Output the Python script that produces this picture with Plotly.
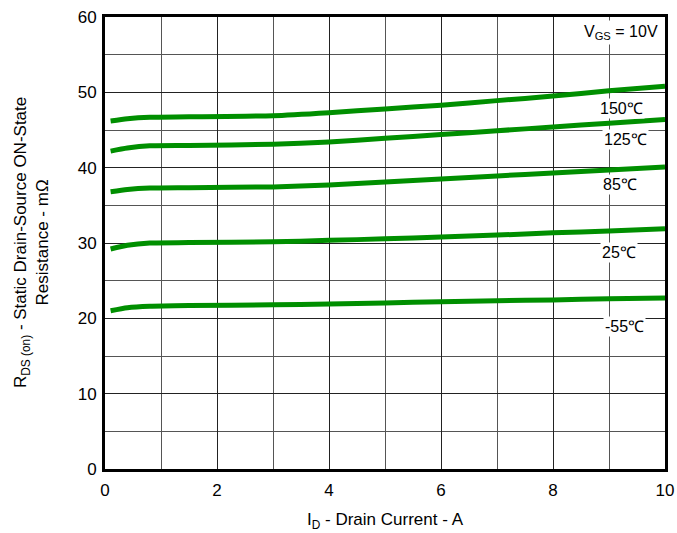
import plotly.graph_objects as go

x_vals = [0.1, 0.4, 0.8, 1.5, 3, 4, 5, 6, 7, 8, 9, 10]
r_150 = [46.2, 46.5, 46.7, 46.75, 46.9, 47.3, 47.8, 48.3, 48.9, 49.5, 50.2, 50.8]
r_125 = [42.2, 42.6, 42.9, 42.95, 43.1, 43.4, 43.9, 44.4, 44.9, 45.4, 45.9, 46.4]
r_85 = [36.8, 37.1, 37.3, 37.35, 37.45, 37.7, 38.1, 38.5, 38.9, 39.3, 39.7, 40.1]
r_25 = [29.2, 29.7, 30.0, 30.05, 30.15, 30.35, 30.55, 30.8, 31.05, 31.35, 31.6, 31.9]
r_m55 = [21.0, 21.4, 21.6, 21.7, 21.8, 21.9, 22.05, 22.2, 22.35, 22.45, 22.6, 22.7]

labels = ["150℃", "125℃", "85℃", "25℃", "-55℃"]
label_x = [9.23, 9.30, 9.2, 9.18, 9.27]
label_y = [47.9, 43.7, 37.8, 28.8, 18.9]

series = [r_150, r_125, r_85, r_25, r_m55]

FONT = "Liberation Sans"

fig = go.Figure()
for ys in series:
    fig.add_trace(go.Scatter(x=x_vals, y=ys, mode="lines",
                             line=dict(color="#008f00", width=5, shape="spline", smoothing=0.6),
                             showlegend=False, hoverinfo="skip"))

for t, lx, ly in zip(labels, label_x, label_y):
    fig.add_annotation(x=lx, y=ly, text=t, showarrow=False, bgcolor="white",
                       font=dict(size=16, color="black", family=FONT), borderpad=1)

fig.add_annotation(x=9.21, y=57.9, text="V<sub>GS</sub> = 10V", showarrow=False, bgcolor="white",
                   font=dict(size=16, color="black", family=FONT), borderpad=2)

# axis titles
fig.add_annotation(xref="paper", yref="paper", x=0.5, y=-0.115, xanchor="center", yanchor="middle",
                   text="I<sub>D</sub> - Drain Current - A", showarrow=False,
                   font=dict(size=17, color="black", family=FONT))
fig.add_annotation(xref="paper", yref="paper", x=-0.132, y=0.5, xanchor="center", yanchor="middle",
                   text="R<sub>DS (on)</sub> - Static Drain-Source ON-State<br>Resistance - mΩ",
                   textangle=-90, showarrow=False,
                   font=dict(size=17, color="black", family=FONT))

axis_common = dict(showline=True, linecolor="black", linewidth=3, mirror=True, ticks="",
                   gridcolor="#222222", gridwidth=1, zeroline=False, automargin=False,
                   tickfont=dict(size=17, color="black", family=FONT))

fig.update_xaxes(range=[0, 10], dtick=2, ticklabelstandoff=4,
                 minor=dict(dtick=1, showgrid=True, gridcolor="#555555", gridwidth=1), **axis_common)
fig.update_yaxes(range=[0, 60], dtick=10, ticklabelstandoff=2,
                 minor=dict(dtick=5, showgrid=True, gridcolor="#555555", gridwidth=1), **axis_common)

fig.update_layout(width=677, height=533, plot_bgcolor="white", paper_bgcolor="white",
                  margin=dict(l=105, r=12, t=17, b=64), font=dict(family=FONT))

fig.write_html("out.html", config={"displayModeBar": False},
               post_script="document.body.style.margin='0px';")
